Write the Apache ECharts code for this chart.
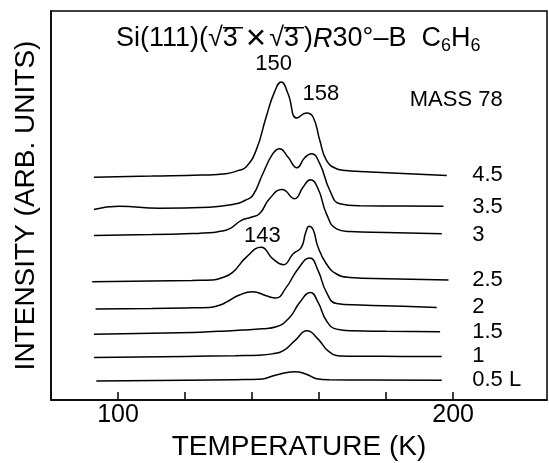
<!DOCTYPE html>
<html>
<head>
<meta charset="utf-8">
<script src="https://cdn.jsdelivr.net/npm/echarts@6/dist/echarts.min.js"></script>
<style>
  html, body { margin: 0; padding: 0; background: #fff; }
  #chart { width: 549px; height: 463px; }
</style>
</head>
<body>
<div id="chart"></div>
<script>
// 各曝露量(L)のTDS曲線: 温度(K)と強度(任意単位、オフセット込み)
const temps45 = [92.8, 110, 125, 132.2, 136, 138.2, 141.2, 144.2, 146.7, 148.7, 150.7, 153.4, 156.2, 158.2, 160.2, 162.2, 165.2, 168, 172.2, 185, 198.1];
const int45   = [222.3, 223.3, 224.3, 225.7, 229, 232.3, 249, 282.3, 307.3, 317.3, 305.7, 281.3, 286.3, 282.3, 259, 239, 230.7, 229, 228, 226, 224];

const temps35 = [92.8, 100.3, 112.3, 127.2, 135.2, 137.8, 140.2, 143.2, 146.2, 148.2, 150.7, 153.4, 155.7, 157.7, 160.2, 163.2, 166.2, 172.2, 185, 197.1];
const int35   = [190, 193.3, 191.3, 192.3, 195.7, 199, 204, 225.7, 245.7, 250.7, 242.3, 231.7, 241.7, 245.7, 235.7, 209, 195.7, 193.7, 193.5, 193.3];

const temps3 = [92.8, 110, 122, 127.2, 130, 133.2, 136.7, 139.7, 142.2, 145.2, 149, 152.7, 155.2, 157.4, 159.7, 162.2, 165.2, 169.2, 180, 196.6];
const int3   = [164, 165, 166, 166.7, 168, 170.7, 179, 182.3, 185.7, 200.7, 210, 200.7, 212.3, 219.7, 210.7, 185.7, 170.7, 168, 167, 165.7];

const temps25 = [92.3, 110, 122, 128.2, 131, 134.2, 138.2, 142.7, 146.2, 149.4, 152.2, 154.7, 156, 157, 158.2, 159.7, 162.2, 165.2, 169.2, 180, 198.6];
const int25   = [118, 118.8, 119.3, 119.7, 122, 127.3, 142.3, 152.3, 140.7, 135, 145.7, 152.3, 167, 173.3, 170, 152.3, 135.7, 125.7, 122.3, 121, 119.7];

const temps2 = [93.3, 110, 120, 127.2, 130, 132.2, 136.2, 140.2, 144.2, 147, 150.2, 153.7, 157.2, 159.7, 162.2, 165.2, 172.2, 185, 195.1];
const int2   = [90.7, 91.3, 91.8, 92.3, 94.2, 97.3, 104.7, 108, 104, 101.7, 112.3, 130.7, 141.7, 129, 107.3, 96.3, 94.7, 93.5, 92.3];

const temps15 = [92.8, 110, 122.3, 130, 137.2, 143, 147.2, 151.2, 154.2, 157.4, 159.7, 162.2, 165.2, 170, 180, 196.1];
const int15   = [65.7, 66.5, 67.3, 68.5, 69.7, 71, 73, 82.3, 97.3, 107.3, 97.3, 79, 70.7, 69, 68.5, 68];

const temps1 = [92.8, 120, 135, 142.2, 146, 149.2, 152.7, 156.4, 159.7, 162.7, 166.2, 172, 185, 196.6];
const int1   = [42.3, 43.5, 44.2, 44.7, 46, 49, 59, 69, 60.7, 49, 44, 43.6, 43.5, 43.3];

const temps05 = [93.5, 120, 135, 142.2, 147.2, 152.7, 156.2, 159.2, 163, 175, 196.6];
const int05   = [19, 19.8, 20.3, 20.7, 25, 28.3, 25.7, 21.3, 20.2, 20, 19.7];

// 右側の曝露量ラベル [温度, 強度, テキスト]
const doseLabels = [
    [205.7, 224, '4.5'],
    [205.7, 193, '3.5'],
    [205.7, 165, '3'],
    [205.7, 120, '2.5'],
    [205.7, 93, '2'],
    [205.7, 68, '1.5'],
    [205.7, 44, '1'],
    [205.7, 20, '0.5 L']
];

// ピーク温度などの注記
const peakLabels = [
    [146.4, 335, '150'],
    [160.5, 305, '158'],
    [143.1, 164, '143'],
    [200.9, 299, 'MASS 78']
];

const xTicks = [100, 120, 140, 160, 180, 200];
const xTickLabels = [100, 200];

const FONT = '"Liberation Sans", Arial, Helvetica, sans-serif';

function zip(xs, ys) {
    return xs.map(function(x, i) { return [x, ys[i]]; });
}

function curve(xs, ys) {
    return {
        type: 'line',
        data: zip(xs, ys),
        smooth: 0.5,
        showSymbol: false,
        symbol: 'none',
        silent: true,
        lineStyle: { color: '#000', width: 1.5 }
    };
}

function textSeries(data, position) {
    return {
        type: 'scatter',
        data: data,
        symbolSize: 0,
        silent: true,
        itemStyle: { opacity: 1 },
        label: {
            show: true,
            position: position,
            distance: 0,
            formatter: function(p) { return p.data[2]; },
            fontFamily: FONT,
            fontSize: 22,
            color: '#000',
            opacity: 1,
            textBorderWidth: 0
        }
    };
}

// √ の上の横棒(vinculum)用の背景画像
function makeBar() {
    const c = document.createElement('canvas');
    c.width = 20;
    c.height = 25;
    const ctx = c.getContext('2d');
    ctx.fillStyle = '#000';
    ctx.fillRect(0, 0, 20, 2);
    return c;
}
const barImage = makeBar();

const chart = echarts.init(document.getElementById('chart'));

const titleBase = { fontFamily: FONT, fontSize: 27, fontWeight: 'normal', color: '#000', lineHeight: 32 };

const option = {
    animation: false,
    backgroundColor: '#fff',
    textStyle: { fontFamily: FONT, color: '#000' },
    title: {
        left: 111,
        top: 18,
        text: '{a|Si(111)(√}{v|3}{x|×}{a|√}{v|3}{a|)}{i|R}{a|30°–B  C}{s|6}{a|H}{s|6}',
        textStyle: {
            fontWeight: 'normal',
            rich: {
                a: titleBase,
                v: Object.assign({}, titleBase, { lineHeight: 25, height: 25, backgroundColor: { image: barImage } }),
                x: Object.assign({}, titleBase, { fontSize: 35, padding: [0, 3, 0, 3] }),
                i: Object.assign({}, titleBase, { fontStyle: 'italic' }),
                s: Object.assign({}, titleBase, { fontSize: 18, verticalAlign: 'bottom', padding: [10, 0, 0, 0] })
            }
        }
    },
    grid: {
        left: 51,
        right: 2,
        top: 11,
        bottom: 63,
        outerBoundsMode: 'none',
        show: true,
        borderColor: '#000',
        borderWidth: 1.5
    },
    xAxis: {
        type: 'value',
        min: 80,
        max: 228,
        interval: 20,
        name: 'TEMPERATURE (K)',
        nameLocation: 'middle',
        nameGap: 33,
        nameTextStyle: { fontFamily: FONT, fontSize: 28, color: '#000' },
        axisLine: { lineStyle: { color: '#000', width: 1.5 } },
        axisTick: {
            inside: true,
            length: 8,
            customValues: xTicks,
            lineStyle: { color: '#000', width: 1.5 }
        },
        axisLabel: {
            customValues: xTickLabels,
            margin: 3,
            fontFamily: FONT,
            fontSize: 25,
            color: '#000'
        },
        splitLine: { show: false }
    },
    yAxis: {
        type: 'value',
        min: 0,
        max: 388,
        name: 'INTENSITY (ARB. UNITS)',
        nameLocation: 'middle',
        nameGap: 11,
        nameTextStyle: { fontFamily: FONT, fontSize: 28, color: '#000' },
        axisLine: { show: true, lineStyle: { color: '#000', width: 1.5 } },
        axisTick: { show: false },
        axisLabel: { show: false },
        splitLine: { show: false }
    },
    series: [
        curve(temps45, int45),
        curve(temps35, int35),
        curve(temps3, int3),
        curve(temps25, int25),
        curve(temps2, int2),
        curve(temps15, int15),
        curve(temps1, int1),
        curve(temps05, int05),
        textSeries(doseLabels, 'right'),
        textSeries(peakLabels, 'inside')
    ]
};

chart.setOption(option);
</script>
</body>
</html>
